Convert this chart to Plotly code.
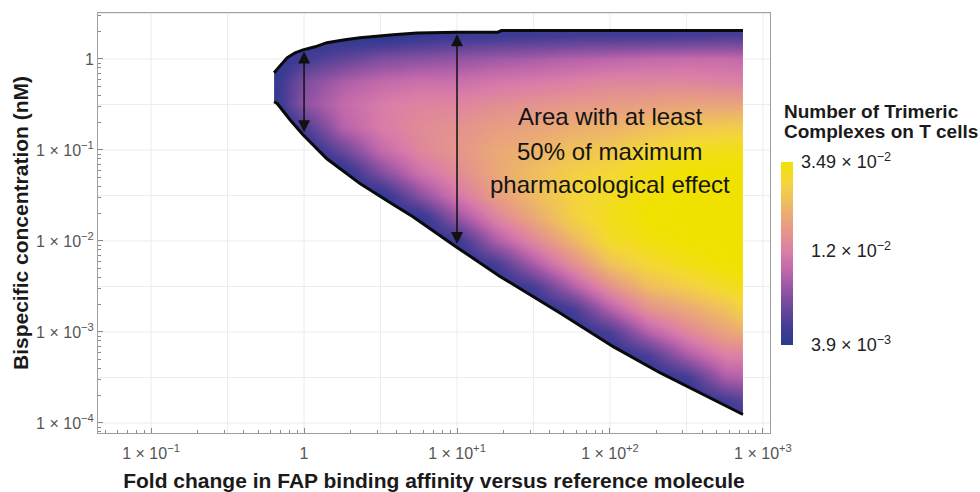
import numpy as np
import plotly.graph_objects as go

FONT = "Liberation Sans, Arial, sans-serif"

# ---------------- data ----------------
# heatmap grid: fold change (x) and bispecific concentration nM (y, top -> bottom)
fold_grid = [0.631, 1, 1.78, 3.16, 5.62, 10, 17.8, 31.6, 56.2, 100, 178, 316, 562, 740]
conc_grid = [3.16, 1.78, 1, 0.562, 0.316, 0.178, 0.1, 0.0562, 0.0316, 0.0178, 0.01,
             0.00562, 0.00316, 0.00178, 0.001, 0.000562, 0.000316, 0.000178, 0.0001]
# number of trimeric complexes on T cells, in units of 1e-3 (rows follow conc_grid)
complexes_e3 = [
    [3.9, 3.9, 3.9, 3.9, 3.9, 3.9, 3.9, 3.9, 3.9, 3.9, 3.9, 3.9, 3.9, 3.9],
    [3.9, 3.9, 3.9, 3.9, 4.26, 4.55, 4.65, 4.75, 4.86, 4.86, 4.86, 4.96, 5.07, 5.07],
    [3.9, 4.86, 5.78, 6.75, 7.20, 7.53, 8.04, 8.40, 8.97, 9.37, 9.79, 10.0, 10.0, 9.79],
    [4.16, 6.75, 8.58, 9.79, 10.46, 10.46, 11.17, 11.67, 12.19, 13.01, 13.01, 13.01, 12.46, 12.19],
    [4.07, 7.36, 9.79, 11.67, 12.74, 12.74, 13.90, 14.53, 15.51, 15.86, 16.57, 17.31, 17.31, 17.31],
    [3.9, 5.07, 8.97, 11.67, 13.60, 14.53, 16.21, 17.31, 18.90, 19.74, 21.55, 23.52, 24.58, 25.12],
    [3.9, 3.9, 6.05, 9.79, 13.01, 15.18, 18.08, 19.74, 22.51, 24.04, 28.03, 30.60, 31.97, 32.68],
    [3.9, 3.9, 3.9, 6.75, 10.46, 13.60, 18.08, 21.55, 25.68, 28.03, 31.97, 34.9, 34.9, 34.9],
    [3.9, 3.9, 3.9, 3.99, 7.04, 11.17, 16.21, 21.08, 26.83, 29.93, 34.14, 34.9, 34.9, 34.9],
    [3.9, 3.9, 3.9, 3.9, 4.07, 7.53, 12.46, 18.08, 25.68, 31.28, 34.9, 34.9, 34.9, 34.9],
    [3.9, 3.9, 3.9, 3.9, 3.9, 4.45, 8.40, 13.01, 20.18, 29.28, 32.68, 34.9, 34.9, 34.9],
    [3.9, 3.9, 3.9, 3.9, 3.9, 3.9, 4.86, 8.40, 13.90, 22.51, 28.03, 31.97, 34.9, 34.9],
    [3.9, 3.9, 3.9, 3.9, 3.9, 3.9, 3.9, 4.86, 8.58, 14.53, 21.55, 25.12, 29.93, 31.97],
    [3.9, 3.9, 3.9, 3.9, 3.9, 3.9, 3.9, 3.9, 4.86, 8.97, 14.53, 18.08, 22.51, 26.83],
    [3.9, 3.9, 3.9, 3.9, 3.9, 3.9, 3.9, 3.9, 3.9, 5.07, 8.97, 13.01, 17.31, 18.90],
    [3.9, 3.9, 3.9, 3.9, 3.9, 3.9, 3.9, 3.9, 3.9, 3.9, 5.07, 8.40, 12.19, 12.19],
    [3.9, 3.9, 3.9, 3.9, 3.9, 3.9, 3.9, 3.9, 3.9, 3.9, 3.9, 4.65, 8.40, 8.78],
    [3.9, 3.9, 3.9, 3.9, 3.9, 3.9, 3.9, 3.9, 3.9, 3.9, 3.9, 3.9, 4.86, 5.66],
    [3.9, 3.9, 3.9, 3.9, 3.9, 3.9, 3.9, 3.9, 3.9, 3.9, 3.9, 3.9, 3.9, 3.9],
]

# 50 % effect contour (boundary of the shaded area)
upper_fold = [0.637, 0.697, 0.774, 0.873, 0.984, 1.18, 1.41, 1.85, 2.32, 3.82, 5.48, 10, 18.5, 19.5, 740]
upper_conc = [0.706, 0.843, 1.03, 1.17, 1.26, 1.36, 1.51, 1.63, 1.71, 1.85, 1.93, 1.96, 1.97, 2.05, 2.05]
lower_fold = [0.637, 0.667, 0.809, 0.984, 1.41, 2.32, 3.82, 5.15, 10, 19.1, 47.1, 105, 212, 471, 740]
lower_conc = [0.339, 0.324, 0.215, 0.147, 0.080, 0.0427, 0.0251, 0.0185, 0.0085, 0.00407,
              0.00162, 0.00069, 0.000357, 0.000180, 0.000124]

arrow_folds = [1, 10]

note_lines = ["Area with at least", "50% of maximum", "pharmacological effect"]
note_fold = 100
note_conc = [0.231, 0.0955, 0.0417]

cbar_title_lines = ["Number of Trimeric", "Complexes on T cells"]
cbar_vals = [3.9e-3, 1.2e-2, 3.49e-2]
cbar_text = ["&nbsp;&nbsp;3.9 × 10<sup>−3</sup>", "&nbsp;&nbsp;1.2 × 10<sup>−2</sup>", "3.49 × 10<sup>−2</sup>"]

x_tick_vals = [0.1, 1, 10, 100, 1000]
x_tick_text = ["1 × 10<sup>−1</sup>", "1", "1 × 10<sup>+1</sup>", "1 × 10<sup>+2</sup>", "1 × 10<sup>+3</sup>"]
y_tick_vals = [1, 0.1, 0.01, 0.001, 0.0001]
y_tick_text = ["1", "1 × 10<sup>−1</sup>", "1 × 10<sup>−2</sup>", "1 × 10<sup>−3</sup>", "1 × 10<sup>−4</sup>"]

x_range = [-1.347, 3.046]
y_range = [-4.11, 0.505]

colorscale = [
    [0.00, "#2b3990"], [0.10, "#443c95"], [0.20, "#6a489a"], [0.30, "#9354a3"],
    [0.40, "#bd66aa"], [0.50, "#d97ca9"], [0.60, "#e4928f"], [0.70, "#eaa878"],
    [0.80, "#f0c25a"], [0.90, "#f4d835"], [1.00, "#f0e200"],
]

# ---------------- figure ----------------
z = np.log10(np.array(complexes_e3) * 1e-3)
zmin, zmax = np.log10(cbar_vals[0]), np.log10(cbar_vals[-1])

fig = go.Figure()

fig.add_trace(go.Heatmap(
    x=fold_grid, y=conc_grid[::-1], z=z[::-1],
    zsmooth="best", zmin=zmin, zmax=zmax, colorscale=colorscale,
    hoverinfo="skip",
    colorbar=dict(
        thickness=12, thicknessmode="pixels",
        len=0.4357, lenmode="fraction",
        x=1.0164, xanchor="left", xpad=0,
        y=0.4274, yanchor="middle", ypad=0,
        tickvals=np.log10(cbar_vals), ticktext=cbar_text,
        ticks="outside", ticklen=5, tickcolor="rgba(0,0,0,0)",
        outlinewidth=0, tickfont=dict(size=18, color="#222222", family=FONT),
    ),
))

lux, luy = np.log10(upper_fold), np.log10(upper_conc)
llx, lly = np.log10(lower_fold), np.log10(lower_conc)
X0, X1 = x_range
Y0, Y1 = y_range
pad = 0.5

# white mask outside the contour
ox = [X0 - pad, X1 + pad, X1 + pad, X0 - pad, X0 - pad] + list(llx) + list(lux[::-1]) + [llx[0], X0 - pad, X0 - pad]
oy = [Y1 + pad, Y1 + pad, Y0 - pad, Y0 - pad, lly[0]] + list(lly) + list(luy[::-1]) + [lly[0], lly[0], Y1 + pad]
fig.add_trace(go.Scatter(x=10 ** np.array(ox), y=10 ** np.array(oy), mode="lines",
                         fill="toself", fillcolor="white", line=dict(width=0),
                         hoverinfo="skip", showlegend=False))

# light grid lines (half decades), only outside the shaded region
gx, gy = [], []
for g in np.arange(-1.0, 3.01, 0.5):
    if lux[0] <= g <= lux[-1]:
        lo = np.interp(g, llx, lly)
        hi = np.interp(g, lux, luy)
        segs = [(Y0, lo), (hi, Y1)]
    else:
        segs = [(Y0, Y1)]
    for a, b in segs:
        gx += [10 ** g, 10 ** g, None]
        gy += [10 ** a, 10 ** b, None]
for h in np.arange(-4.0, 0.51, 0.5):
    if h > luy.max() or h < lly.min():
        segs = [(X0, X1)]
    else:
        if h >= luy[0]:
            xl = np.interp(h, luy, lux)
        elif h <= lly[0]:
            xl = np.interp(h, lly[::-1], llx[::-1])
        else:
            xl = lux[0]
        segs = [(X0, xl), (lux[-1], X1)]
    for a, b in segs:
        gx += [10 ** a, 10 ** b, None]
        gy += [10 ** h, 10 ** h, None]
fig.add_trace(go.Scatter(x=gx, y=gy, mode="lines", line=dict(color="#ececec", width=1),
                         hoverinfo="skip", showlegend=False))

# contour boundary
for fx, cy in [(upper_fold, upper_conc), (lower_fold, lower_conc)]:
    fig.add_trace(go.Scatter(x=fx, y=cy, mode="lines", line=dict(color="#0a0a0a", width=3),
                             hoverinfo="skip", showlegend=False))

annotations = []
for f in arrow_folds:
    lf = np.log10(f)
    top = float(np.interp(lf, lux, luy))
    bot = float(np.interp(lf, llx, lly))
    annotations.append(dict(
        x=lf, y=top, ax=lf, ay=bot, xref="x", yref="y", axref="x", ayref="y",
        text="", showarrow=True, arrowhead=2, startarrowhead=2, arrowside="end+start",
        arrowwidth=1.5, arrowsize=1.6, startarrowsize=1.6, arrowcolor="#111111",
        standoff=2, startstandoff=2))
for line, c in zip(note_lines, note_conc):
    annotations.append(dict(
        x=np.log10(note_fold), y=np.log10(c), xref="x", yref="y", text=line,
        showarrow=False, font=dict(size=24, color="#141414", family=FONT)))
# colour bar title (two tightly spaced lines)
for line, yp in zip(cbar_title_lines, [0.7643, 0.7167]):
    annotations.append(dict(
        x=1.0179, y=yp, xref="paper", yref="paper", xanchor="left", yanchor="middle",
        text=line, showarrow=False,
        font=dict(size=19, color="#1a1a1a", family=FONT, weight="bold")))

minor_vals = [k * 10.0 ** n for n in range(-5, 4) for k in range(2, 10)]

axis_common = dict(
    type="log", ticks="inside", ticklen=5, tickwidth=1, tickcolor="#8a8a8a",
    showline=True, linecolor="#a0a0a0", linewidth=1, mirror=True,
    showgrid=False, zeroline=False,
    tickfont=dict(size=16, color="#555555", family=FONT),
    minor=dict(ticks="inside", ticklen=3, tickwidth=1, tickcolor="#8a8a8a",
               tickvals=minor_vals, showgrid=False),
)

fig.update_layout(
    width=980, height=492,
    margin=dict(l=98, r=210, t=13, b=59, autoexpand=False),
    paper_bgcolor="white", plot_bgcolor="white",
    font=dict(family=FONT),
    showlegend=False,
    xaxis=dict(axis_common, range=x_range, tickvals=x_tick_vals, ticktext=x_tick_text,
               ticklabelstandoff=6,
               title=dict(text="Fold change in FAP binding affinity versus reference molecule",
                          font=dict(size=21, color="#1a1a1a", family=FONT, weight="bold"),
                          standoff=13)),
    yaxis=dict(axis_common, range=y_range, tickvals=y_tick_vals, ticktext=y_tick_text,
               title=dict(text="Bispecific concentration (nM)",
                          font=dict(size=21, color="#1a1a1a", family=FONT, weight="bold"),
                          standoff=1)),
    annotations=annotations,
)

fig.write_html("out.html")
